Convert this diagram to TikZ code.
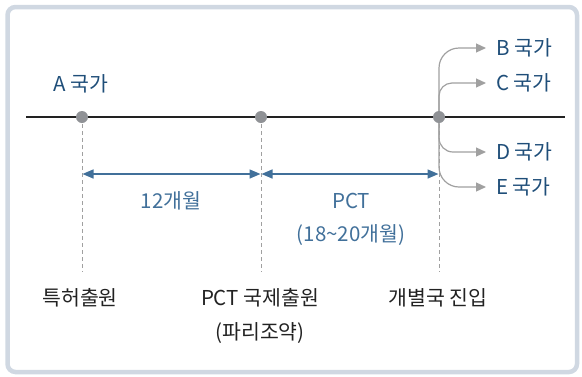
\documentclass[tikz,border=0pt]{standalone}
\usepackage{fontspec}
\setmainfont{Noto Sans CJK KR}
\usetikzlibrary{arrows.meta}
\definecolor{frame}{HTML}{D0D8E2}
\definecolor{navy}{HTML}{1F4E79}
\definecolor{steel}{HTML}{41709A}
\definecolor{dotg}{HTML}{909296}
\definecolor{branchg}{HTML}{A0A0A0}
\definecolor{ink}{HTML}{222222}
\tikzset{
  lbl/.style={font=\fontsize{20.5}{22}\selectfont, inner sep=0pt, anchor=center},
  country/.style={lbl, text=navy},
  period/.style={lbl, text=steel},
  bottom/.style={lbl, text=ink},
  tdot/.style={circle, fill=dotg, minimum size=12pt, inner sep=0pt},
  guide/.style={branchg, line width=0.8pt, dash pattern=on 4pt off 3pt},
  span/.style={steel, line width=1.5pt, {Triangle[length=11pt,width=9pt]}-{Triangle[length=11pt,width=9pt]}, shorten <=0.5pt, shorten >=0.5pt},
  branch/.style={branchg, line width=1.2pt, -{Triangle[length=10pt,width=9pt]}},
}
\begin{document}
\begin{tikzpicture}[x=1pt,y=-1pt]
\useasboundingbox (0,0) rectangle (582,376);
\draw[frame, line width=4.5pt, rounded corners=8pt] (7.5,7) rectangle (577,372);
% main line
\coordinate (L) at (26,117);
\coordinate (R) at (565,117);
\draw[ink, line width=2.6pt] (L) -- (R);
% guide lines
\coordinate (e1) at (82,272);
\coordinate (e2) at (261,272);
\coordinate (e3) at (439,272);
\coordinate (p1) at (82,117);
\coordinate (p2) at (261,117);
\coordinate (p3) at (439,117);
\draw[guide] (p1) -- (e1);
\draw[guide] (p2) -- (e2);
\draw[guide] (p3) -- (e3);
% branches
\coordinate (tB) at (486,48);
\coordinate (tC) at (486,83);
\coordinate (tD) at (486,152);
\coordinate (tE) at (486,187);
\draw[branch, rounded corners=20pt] (p3) |- (tB);
\draw[branch, rounded corners=13pt] (p3) |- (tC);
\draw[branch, rounded corners=14pt] (p3) |- (tD);
\draw[branch, rounded corners=20pt] (p3) |- (tE);
% dots
\node[tdot] (d1) at (p1) {};
\node[tdot] (d2) at (p2) {};
\node[tdot] (d3) at (p3) {};
% span arrows
\coordinate (s1) at (82,174);
\coordinate (s2) at (261,174);
\coordinate (s3) at (439,174);
\draw[span] (s1) -- (s2);
\draw[span] (s2) -- (s3);
% labels
\node[country] (A) at (81,84) {A 국가};
\node[country, anchor=west] (B) at (496,48) {B 국가};
\node[country, anchor=west] (C) at (496,83) {C 국가};
\node[country, anchor=west] (D) at (496,152) {D 국가};
\node[country, anchor=west] (E) at (496,187) {E 국가};
\node[period] (m12) at (171,201) {12개월};
\node[period] (pct) at (351,201) {PCT};
\node[period] (m18) at (351,235) {(18\textasciitilde 20개월)};
\node[bottom] (b1) at (80,298) {특허출원};
\node[bottom] (b2) at (260,298) {PCT 국제출원};
\node[bottom] (b2b) at (260,333) {(파리조약)};
\node[bottom] (b3) at (438,298) {개별국 진입};
\end{tikzpicture}
\end{document}
